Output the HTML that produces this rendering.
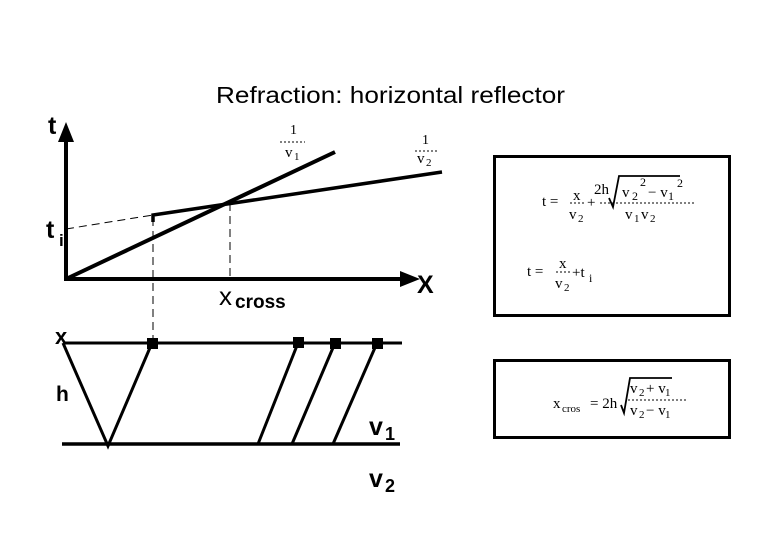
<!DOCTYPE html>
<html><head><style>
body{margin:0;background:#fff;}
svg text{font-family:"Liberation Sans",sans-serif;}
.s{font-family:"Liberation Serif",serif;}
</style></head><body>
<svg width="780" height="540" viewBox="0 0 780 540" xmlns="http://www.w3.org/2000/svg">
<text x="216" y="103" font-size="23" textLength="349" lengthAdjust="spacingAndGlyphs">Refraction: horizontal reflector</text>
<text x="48" y="134" font-size="25" font-weight="bold">t</text>
<text x="46" y="238" font-size="25" font-weight="bold">t</text><text x="59" y="246" font-size="17" font-weight="bold">i</text>
<text x="219" y="305" font-size="26">x</text><text x="235" y="308" font-size="19" font-weight="bold">cross</text>
<text x="417" y="293" font-size="25" font-weight="bold">X</text>
<g stroke="#000" fill="none">
<line x1="66" y1="281" x2="66" y2="140" stroke-width="4"/>
<line x1="64" y1="279" x2="405" y2="279" stroke-width="4"/>
<line x1="66" y1="279" x2="335" y2="152" stroke-width="4"/>
<polyline points="153,222 153,215 442,172" stroke-width="3.5"/>
<g stroke-width="1" stroke-dasharray="8,5">
<line x1="66" y1="229" x2="153" y2="215"/>
<line x1="153" y1="218" x2="153" y2="342"/>
<line x1="230" y1="203" x2="230" y2="279"/>
</g>
<line x1="63" y1="343" x2="402" y2="343" stroke-width="3"/>
<line x1="62" y1="444" x2="400" y2="444" stroke-width="3.5"/>
<polyline points="63,343 108,446 152,343" stroke-width="3"/>
<line x1="258" y1="444" x2="298" y2="343" stroke-width="3"/>
<line x1="292" y1="444" x2="335" y2="343" stroke-width="3"/>
<line x1="333" y1="444" x2="377" y2="343" stroke-width="3"/>
<rect x="494.5" y="156.5" width="235" height="159" stroke-width="3"/>
<rect x="494.5" y="360.5" width="235" height="77" stroke-width="3"/>
</g>
<polygon points="66,122 58,142 74,142" fill="#000"/>
<polygon points="420,279 400,271 400,287" fill="#000"/>
<g fill="#000"><rect x="147" y="338" width="11" height="11"/><rect x="293" y="337" width="11" height="11"/><rect x="330" y="338" width="11" height="11"/><rect x="372" y="338" width="11" height="11"/></g>
<text x="55" y="344" font-size="22" font-weight="bold">x</text>
<text x="56" y="401" font-size="21" font-weight="bold">h</text>
<text x="369" y="435" font-size="25" font-weight="bold">v</text><text x="385" y="440" font-size="18" font-weight="bold">1</text>
<text x="369" y="487" font-size="25" font-weight="bold">v</text><text x="385" y="492" font-size="18" font-weight="bold">2</text>
<g class="s">
<text x="290" y="134" class="s" font-size="14">1</text><line x1="280" y1="142" x2="305" y2="142" stroke="#000" stroke-dasharray="2,2"/>
<text x="285" y="157" class="s" font-size="15">v</text><text x="294" y="160" class="s" font-size="11">1</text>
<text x="422" y="144" class="s" font-size="14">1</text><line x1="415" y1="151" x2="438" y2="151" stroke="#000" stroke-dasharray="2,2"/>
<text x="417" y="163" class="s" font-size="15">v</text><text x="426" y="166" class="s" font-size="11">2</text>
<g font-size="15">
<text x="542" y="206" class="s">t =</text>
<text x="573" y="200" class="s">x</text><line x1="570" y1="203" x2="586" y2="203" stroke="#000" stroke-dasharray="2,2"/>
<text x="569" y="219" class="s">v</text><text x="578" y="222" class="s" font-size="11">2</text>
<text x="587" y="207" class="s">+</text>
<text x="594" y="194" class="s">2h</text>
<polyline points="609,198 613,207 619,176 680,176" fill="none" stroke="#000" stroke-width="1.8"/>
<text x="622" y="197" class="s">v</text><text x="632" y="200" class="s" font-size="12">2</text><text x="640" y="186" class="s" font-size="12">2</text>
<text x="648" y="197" class="s">− v</text><text x="668" y="200" class="s" font-size="12">1</text><text x="677" y="187" class="s" font-size="12">2</text>
<line x1="600" y1="203" x2="694" y2="203" stroke="#000" stroke-dasharray="2,2"/>
<text x="625" y="219" class="s">v</text><text x="634" y="222" class="s" font-size="11">1</text><text x="641" y="219" class="s">v</text><text x="650" y="222" class="s" font-size="11">2</text>
<text x="527" y="276" class="s">t =</text>
<text x="559" y="268" class="s">x</text><line x1="556" y1="272" x2="572" y2="272" stroke="#000" stroke-dasharray="2,2"/>
<text x="555" y="288" class="s">v</text><text x="564" y="291" class="s" font-size="11">2</text>
<text x="572" y="277" class="s">+t</text><text x="589" y="282" class="s" font-size="12">i</text>
<text x="553" y="408" class="s">x</text><text x="562" y="412" class="s" font-size="11">cros</text>
<text x="590" y="408" class="s">=  2h</text>
<polyline points="621,405 624,413 630,378 672,378" fill="none" stroke="#000" stroke-width="1.8"/>
<text x="630" y="393" class="s">v</text><text x="639" y="396" class="s" font-size="11">2</text><text x="646" y="393" class="s">+ v</text><text x="665" y="396" class="s" font-size="11">1</text>
<line x1="628" y1="400" x2="686" y2="400" stroke="#000" stroke-dasharray="2,2"/>
<text x="630" y="415" class="s">v</text><text x="639" y="418" class="s" font-size="11">2</text><text x="646" y="415" class="s">− v</text><text x="665" y="418" class="s" font-size="11">1</text>
</g>
</g>
</svg>
</body></html>
